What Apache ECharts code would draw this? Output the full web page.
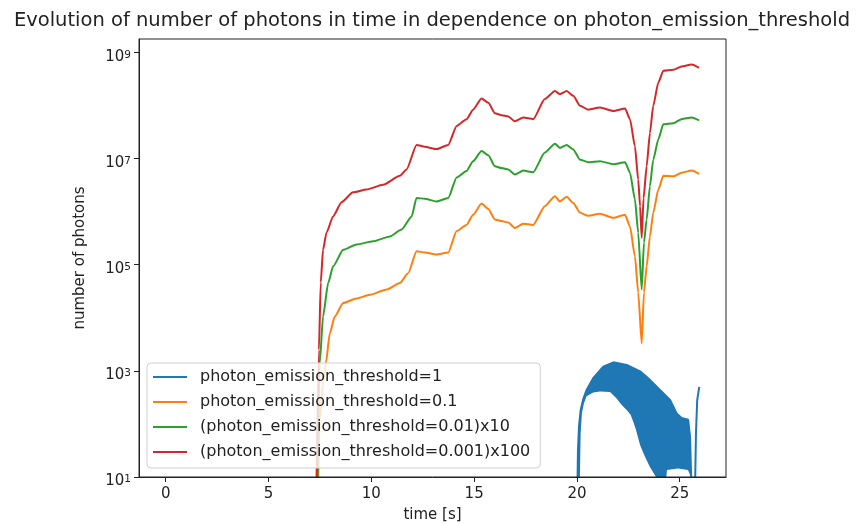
<!DOCTYPE html>
<html><head><meta charset="utf-8">
<script src="https://cdn.jsdelivr.net/npm/echarts@6/dist/echarts.min.js"></script>
<style>html,body{margin:0;padding:0;background:#fff}#c{width:856px;height:525px}</style>
</head><body><div id="c"></div>
<script>
const titleText = 'Evolution of number of photons in time in dependence on photon_emission_threshold';
const xName = 'time [s]';
const yName = 'number of photons';
const seriesNames = ['photon_emission_threshold=1','photon_emission_threshold=0.1','(photon_emission_threshold=0.01)x10','(photon_emission_threshold=0.001)x100'];
const xTicks = [0,5,10,15,20,25];
const yTicks = [1e1,1e3,1e5,1e7,1e9];

// threshold = 1 : upper edge of the oscillating band
const tBlue = [20.02,20.05,20.10,20.18,20.31,20.47,20.79,21.28,21.77,22.42,23.07,23.55,24.04,24.53,24.85,25.09,25.41,25.50,25.58];
const nBlue = [5,32,89,182,295,437,724,1200,1445,1290,977,676,437,282,158,129,120,58,5];
// threshold = 1 : lower edge of the oscillating band
const tBlueLow = [20.13,20.18,20.24,20.34,20.47,20.79,21.12,21.61,21.93,22.17,22.42,22.61,22.74,22.87,23.07,23.31,23.55,23.88,24.30,24.38,24.91,25.40,25.50,25.58];
const nBlueLow = [5,66,158,245,331,389,407,398,302,229,182,148,110,78,40,24,15.5,9.5,6.3,13.5,14.5,13.5,11,5];
// threshold = 1 : final spike
const tBlueSpike = [25.60,25.74,25.79,25.85,25.95];
const nBlueSpike = [5,5,68,282,500];

const tOrange = [7.37,7.49,7.64,7.79,7.98,8.22,8.63,9.28,9.93,10.74,11.39,11.79,12.20,12.60,13.17,13.74,14.15,14.63,14.95,15.36,15.69,16.01,16.34,16.66,16.98,17.39,17.87,18.44,18.93,19.17,19.50,19.82,20.15,20.55,21.12,21.77,22.34,22.58,22.82,22.98,23.15,23.26,23.39,23.55,23.71,23.96,24.20,24.69,25.09,25.58,25.94];
const nOrange = [1,1.2e2,5.5e2,1.4e3,5.1e3,1.05e4,1.9e4,2.3e4,2.7e4,3.4e4,4.5e4,6.9e4,1.78e5,1.7e5,1.55e5,1.7e5,4.3e5,5.6e5,8.7e5,1.41e6,1.12e6,7.1e5,6.6e5,6.2e5,4.9e5,5.9e5,5.6e5,1.26e6,1.95e6,1.55e6,1.9e6,1.45e6,9.5e5,8.3e5,9.1e5,7.6e5,8.7e5,5.2e5,1.45e5,3.0e4,3.3e3,3.0e4,9.3e4,3.4e5,9.5e5,2.6e6,4.7e6,4.6e6,5.4e6,5.9e6,5.1e6];

const tGreen = [7.35,7.49,7.65,7.90,8.14,8.63,9.28,10.09,10.90,11.47,11.96,12.20,12.60,13.17,13.74,14.15,14.63,14.95,15.36,15.69,16.01,16.34,16.66,16.98,17.39,17.87,18.44,18.93,19.17,19.50,19.82,20.15,20.55,21.12,21.77,22.34,22.58,22.82,22.98,23.15,23.26,23.39,23.55,23.71,23.96,24.20,24.69,25.09,25.58,25.94];
const nGreen = [1,1.4e3,1.05e4,4.5e4,9.3e4,1.9e5,2.4e5,2.75e5,3.4e5,4.6e5,8.1e5,1.8e6,1.74e6,1.55e6,1.8e6,4.4e6,5.8e6,8.9e6,1.38e7,1.15e7,7.1e6,6.6e6,6.2e6,5.0e6,5.9e6,5.5e6,1.29e7,1.9e7,1.58e7,1.8e7,1.48e7,9.5e6,8.5e6,8.9e6,7.8e6,8.5e6,5.4e6,1.7e6,4.0e5,3.4e4,2.6e5,7.1e5,3.0e6,9.5e6,2.3e7,4.4e7,4.6e7,5.5e7,5.9e7,5.2e7];

const tRed = [7.30,7.45,7.54,7.65,7.82,8.14,8.55,9.11,9.77,10.57,11.39,11.71,12.20,12.60,13.17,13.74,14.15,14.63,14.95,15.36,15.69,16.01,16.34,16.66,16.98,17.39,17.87,18.44,18.93,19.17,19.50,19.82,20.15,20.55,21.12,21.77,22.34,22.58,22.82,22.98,23.07,23.15,23.24,23.39,23.55,23.71,23.96,24.20,24.69,25.09,25.58,25.94];
const nRed = [1,2.5e3,4.6e4,1.9e5,4.0e5,8.1e5,1.5e6,2.3e6,2.6e6,3.2e6,4.7e6,6.2e6,1.8e7,1.66e7,1.5e7,1.8e7,4.1e7,5.5e7,8.3e7,1.35e8,1.12e8,7.1e7,6.5e7,6.2e7,5.0e7,5.9e7,5.5e7,1.32e8,1.86e8,1.62e8,1.86e8,1.51e8,9.8e7,8.3e7,9.1e7,7.8e7,8.7e7,5.5e7,1.7e7,4.0e6,1.26e6,3.2e5,1.78e6,7.1e6,3.0e7,9.8e7,2.7e8,4.5e8,4.7e8,5.4e8,5.9e8,5.1e8];

const colors = ['#1f77b4','#ff7f0e','#2ca02c','#d62728'];
const zip = (t, n) => t.map((x, i) => [x, n[i]]);
const FONT = 'DejaVu Sans';
const TXT = '#222';

const lineSeries = (name, data, color, smooth) => ({
  type: 'line', name, data, showSymbol: false, symbol: 'none', smooth: smooth || false, smoothMonotone: 'x',
  lineStyle: { color, width: 2 }, itemStyle: { color },
  emphasis: { disabled: true }, animation: false, clip: true
});

const chart = echarts.init(document.getElementById('c'), null, { renderer: 'canvas' });
chart.setOption({
  animation: false,
  backgroundColor: '#fff',
  title: {
    text: titleText, left: 432, top: 11, textAlign: 'center', padding: 0,
    textStyle: { fontFamily: FONT, fontSize: 19.5, fontWeight: 'normal', color: TXT }
  },
  grid: { left: 139, right: 130, top: 39, bottom: 48, outerBoundsMode: 'none', containLabel: false,
          show: true, borderColor: TXT, borderWidth: 1, backgroundColor: 'transparent', z: 10 },
  legend: {
    data: seriesNames, orient: 'vertical', left: 147, top: 363,
    icon: 'rect', itemWidth: 34, itemHeight: 2, itemGap: 7,
    padding: [5, 10, 7, 6], selectedMode: false,
    backgroundColor: 'rgba(255,255,255,0.8)', borderColor: '#d0d0d0', borderWidth: 1, borderRadius: 4,
    textStyle: { fontFamily: FONT, fontSize: 16, color: TXT, lineHeight: 18, padding: [0, 0, 0, 8] }
  },
  xAxis: {
    type: 'value', min: -1.3, max: 27.25, z: 10,
    name: xName, nameLocation: 'middle', nameGap: 31,
    nameTextStyle: { fontFamily: FONT, fontSize: 15, color: TXT },
    axisLine: { onZero: false, lineStyle: { color: TXT, width: 1 } },
    axisTick: { length: 5, lineStyle: { color: TXT }, customValues: xTicks },
    axisLabel: { customValues: xTicks, fontFamily: FONT, fontSize: 15, color: TXT, margin: 10 },
    splitLine: { show: false }
  },
  yAxis: {
    type: 'log', logBase: 10, min: 10, max: 1.778e9, z: 10,
    name: yName, nameLocation: 'middle', nameGap: 51,
    nameTextStyle: { fontFamily: FONT, fontSize: 15, color: TXT },
    axisLine: { onZero: false, lineStyle: { color: TXT, width: 1 } },
    axisTick: { length: 5, lineStyle: { color: TXT }, customValues: yTicks },
    axisLabel: {
      customValues: yTicks, margin: 8, padding: [9, 0, 0, 0],
      formatter: v => '{b|10}{s|' + Math.round(Math.log10(v)) + '}',
      rich: {
        b: { fontFamily: FONT, fontSize: 15, color: TXT, lineHeight: 15, padding: [4, 0, 0, 0], verticalAlign: 'bottom' },
        s: { fontFamily: FONT, fontSize: 10.5, color: TXT, lineHeight: 11, verticalAlign: 'top' }
      }
    },
    splitLine: { show: false }
  },
  series: [
    Object.assign(lineSeries(seriesNames[0], zip(tBlue, nBlue), colors[0]), { areaStyle: { color: colors[0], opacity: 1 } }),
    { type: 'line', name: 'band-gap', data: zip(tBlueLow, nBlueLow), showSymbol: false, symbol: 'none',
      lineStyle: { width: 0, opacity: 0 }, areaStyle: { color: '#ffffff', opacity: 1 }, silent: true,
      emphasis: { disabled: true }, animation: false, clip: true },
    lineSeries(seriesNames[0], zip(tBlueSpike, nBlueSpike), colors[0]),
    lineSeries(seriesNames[1], zip(tOrange, nOrange), colors[1], 0.2),
    lineSeries(seriesNames[2], zip(tGreen, nGreen), colors[2], 0.2),
    lineSeries(seriesNames[3], zip(tRed, nRed), colors[3], 0.2)
  ]
});
</script></body></html>
